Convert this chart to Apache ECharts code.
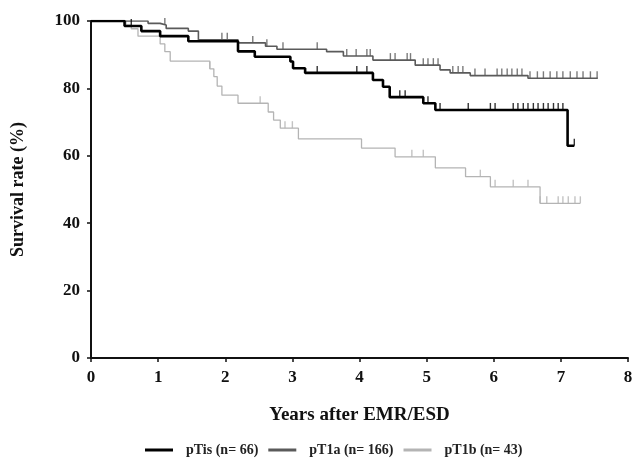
<!DOCTYPE html>
<html>
<head>
<meta charset="utf-8">
<style>
  html, body { margin: 0; padding: 0; background: #fff; }
  #chart { width: 636px; height: 458px; }
</style>
<script src="https://cdn.jsdelivr.net/npm/echarts@6/dist/echarts.min.js"></script>
</head>
<body>
<div id="chart"></div>
<script>
// Kaplan-Meier step points: [year, survival %] (value holds until the next time)
const pTisSteps = [
  [0, 100], [0.5, 98.5], [0.75, 97.0], [1.03, 95.5], [1.45, 94.0], [2.19, 91.0],
  [2.44, 89.4], [2.97, 88.0], [3.01, 86.0], [3.19, 84.6], [4.2, 82.5], [4.35, 80.5],
  [4.45, 77.4], [4.95, 75.6], [5.13, 73.6], [7.1, 63.0], [7.2, 63.0]
]
const pT1aSteps = [
  [0, 100], [0.85, 99.3], [1.03, 98.8], [1.12, 97.8], [1.45, 97.0], [1.6, 94.4],
  [2.19, 93.5], [2.6, 92.5], [2.77, 91.6], [3.51, 90.9], [3.76, 89.6], [4.2, 88.4],
  [4.83, 86.9], [5.2, 85.5], [5.35, 84.6], [5.65, 83.8], [6.51, 83.0], [7.55, 83.0]
]
const pT1bSteps = [
  [0, 100], [0.52, 98.8], [0.6, 97.7], [0.7, 95.5], [1.03, 93.2], [1.1, 90.9],
  [1.18, 88.1], [1.77, 85.8], [1.83, 83.5], [1.88, 80.7], [1.95, 78.0], [2.19, 75.6],
  [2.64, 73.0], [2.72, 70.6], [2.82, 68.2], [3.09, 65.0], [4.03, 62.3], [4.53, 59.7],
  [5.13, 56.4], [5.58, 53.8], [5.95, 50.8], [6.69, 45.9], [7.29, 45.9]
]

// censored observations (years)
const pTisCensor = [0.6, 3.37, 3.96, 4.11, 4.6, 4.68, 5.02, 5.2, 5.62, 5.95, 6.02,
  6.29, 6.36, 6.44, 6.51, 6.59, 6.66, 6.74, 6.81, 6.89, 6.96, 7.03, 7.2]
const pT1aCensor = [1.1, 1.95, 2.03, 2.41, 2.62, 2.86, 3.37, 3.81, 3.95, 4.11, 4.16,
  4.46, 4.53, 4.71, 4.76, 4.95, 5.02, 5.1, 5.17, 5.39, 5.47, 5.54, 5.72, 5.87, 6.05,
  6.12, 6.2, 6.27, 6.35, 6.42, 6.54, 6.65, 6.74, 6.84, 6.94, 7.03, 7.14, 7.24, 7.33,
  7.44, 7.54]
const pT1bCensor = [1.77, 2.52, 2.89, 3.0, 4.78, 4.95, 5.8, 6.02, 6.29, 6.51, 6.69,
  6.79, 6.96, 7.03, 7.11, 7.21, 7.29]

const seriesNames = ['pTis (n= 66)', 'pT1a (n= 166)', 'pT1b (n= 43)']
const xTicks = [0, 1, 2, 3, 4, 5, 6, 7, 8]

const FONT = '"Liberation Serif", "DejaVu Serif", serif'

// survival value at time t (for placing censor ticks on the curve)
const survivalAt = (steps, t) => {
  let v = steps[0][1]
  steps.forEach(p => { if (p[0] <= t) v = p[1] })
  return v
}

const censorSeries = (steps, times, color) => ({
  type: 'scatter',
  data: times.map(t => [t, survivalAt(steps, t)]),
  symbol: 'rect',
  symbolSize: [1.4, 7],
  symbolOffset: [0, -3.5],
  itemStyle: { color },
  silent: true,
  z: 3,
})

const chart = echarts.init(document.getElementById('chart'))

const option = {
  animation: false,
  grid: { left: 91, right: 8, top: 21, bottom: 100, containLabel: false },
  legend: {
    data: seriesNames,
    top: 438,
    left: 140,
    icon: 'rect',
    itemWidth: 28,
    itemHeight: 3,
    itemGap: 10,
    textStyle: {
      fontFamily: FONT, fontWeight: 'bold', fontSize: 14, color: '#222',
      padding: [0, 0, 0, 8],
    },
  },
  xAxis: {
    type: 'value',
    min: 0,
    max: 8,
    interval: 1,
    offset: 5,
    name: 'Years after EMR/ESD',
    nameLocation: 'middle',
    nameGap: 43,
    nameTextStyle: { fontFamily: FONT, fontWeight: 'bold', fontSize: 19, color: '#111' },
    axisLine: { lineStyle: { color: '#111', width: 2 } },
    axisTick: { length: 4, lineStyle: { color: '#111', width: 1.5 } },
    axisLabel: {
      fontFamily: FONT, fontWeight: 'bold', fontSize: 17, color: '#111', margin: 6,
      formatter: v => (xTicks.includes(v) ? String(v) : ''),
    },
    splitLine: { show: false },
  },
  yAxis: {
    type: 'value',
    min: 0,
    max: 100,
    interval: 20,
    offset: 2,
    name: 'Survival rate (%)',
    nameLocation: 'middle',
    nameGap: 62,
    nameTextStyle: { fontFamily: FONT, fontWeight: 'bold', fontSize: 18, color: '#111' },
    axisLine: { show: true, lineStyle: { color: '#111', width: 2 } },
    axisTick: { show: true, length: 4, lineStyle: { color: '#111', width: 1.5 } },
    axisLabel: { fontFamily: FONT, fontWeight: 'bold', fontSize: 17, color: '#111', margin: 9 },
    splitLine: { show: false },
  },
  series: [
    {
      name: seriesNames[2],
      type: 'line',
      step: 'end',
      symbol: 'none',
      data: pT1bSteps,
      lineStyle: { color: '#b4b4b4', width: 1.3 },
      itemStyle: { color: '#b4b4b4' },
      z: 2,
    },
    {
      name: seriesNames[1],
      type: 'line',
      step: 'end',
      symbol: 'none',
      data: pT1aSteps,
      lineStyle: { color: '#5a5a5a', width: 1.6 },
      itemStyle: { color: '#5a5a5a' },
      z: 3,
    },
    {
      name: seriesNames[0],
      type: 'line',
      step: 'end',
      symbol: 'none',
      data: pTisSteps,
      lineStyle: { color: '#000', width: 2.6 },
      itemStyle: { color: '#000' },
      z: 4,
    },
    censorSeries(pT1bSteps, pT1bCensor, '#b4b4b4'),
    censorSeries(pT1aSteps, pT1aCensor, '#5a5a5a'),
    censorSeries(pTisSteps, pTisCensor, '#000'),
  ],
}

chart.setOption(option)
</script>
</body>
</html>
